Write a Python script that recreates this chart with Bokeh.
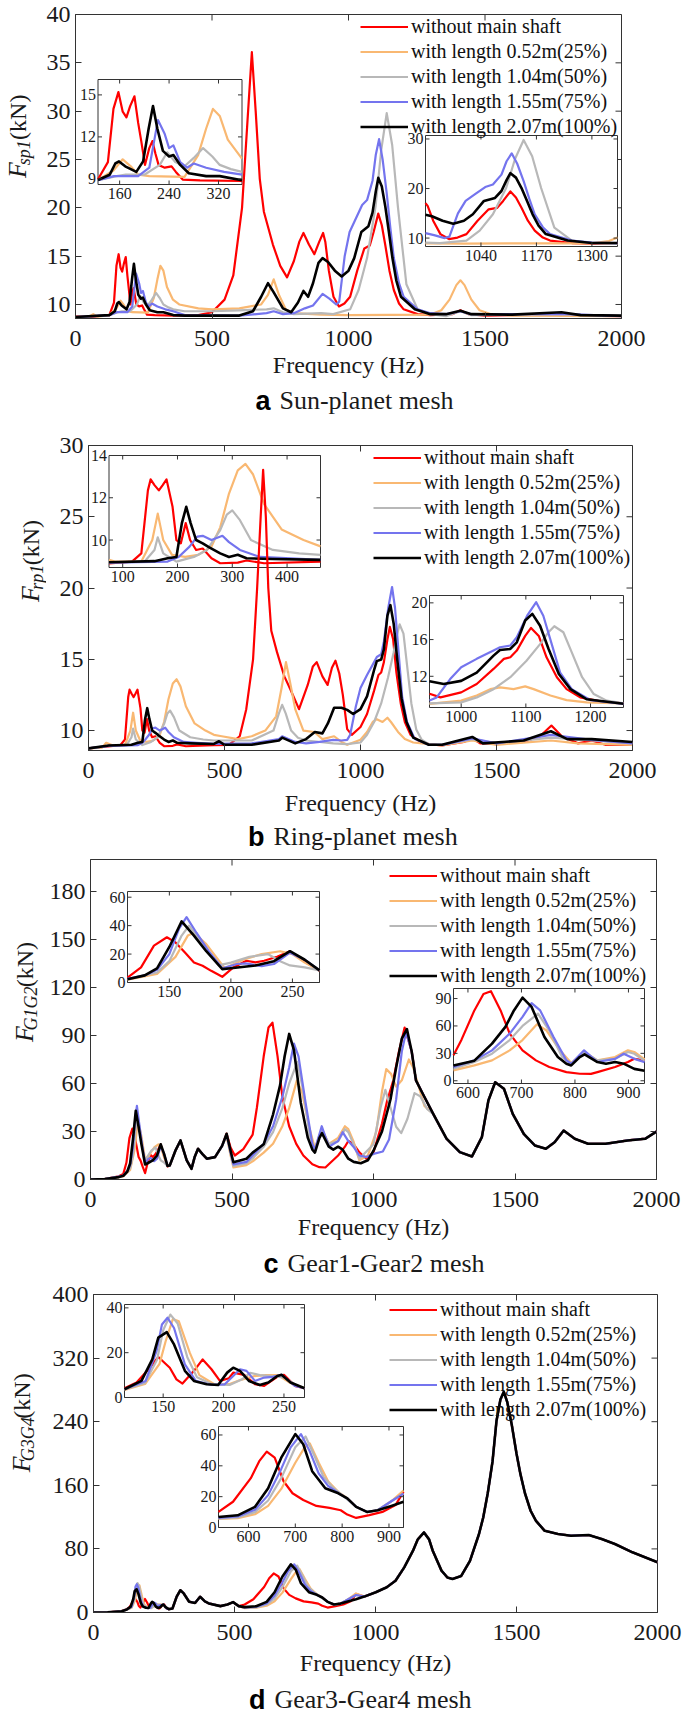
import numpy as np
from bokeh.plotting import figure
from bokeh.models import Range1d, Label, Legend, LegendItem, FixedTicker
from bokeh.layouts import column, row
from bokeh.embed import file_html
from bokeh.resources import INLINE
from bokeh.core.properties import value

SERIF = "Liberation Serif"
SANS = "Liberation Sans"

SERIES_LABELS = ["without main shaft", "with length 0.52m(25%)", "with length 1.04m(50%)",
                 "with length 1.55m(75%)", "with length 2.07m(100%)"]
COLORS = ["#ff0000", "#f9b872", "#b8b8b8", "#7474ee", "#000000"]
WIDTHS = [2.2, 2.2, 2.2, 2.2, 2.6]
FREQ_TICKS = [0, 500, 1000, 1500, 2000]

# ---------------- panel a : Sun-planet mesh (Hz, kN) ----------------
A_YTICKS = [10, 15, 20, 25, 30, 35, 40]
A_RED = [(0, 8.75), (60, 8.75), (124, 8.9), (141, 10.2), (150, 14.0), (158, 15.2), (165, 13.8), (171, 13.4),
         (177, 14.2), (184, 14.9), (190, 13.0), (195, 11.7), (201, 10.0), (208, 11.2), (213, 11.7), (218, 10.8),
         (223, 10.0), (233, 9.8), (244, 9.9), (251, 9.5), (262, 8.95), (290, 8.9), (360, 8.85), (450, 8.9),
         (500, 9.2), (546, 10.5), (578, 13), (610, 20), (630, 29), (646, 36.1), (660, 30), (675, 23), (690, 19.6),
         (723, 16.2), (750, 14), (775, 12.8), (800, 14.5), (820, 16.5), (835, 17.4), (855, 16.2), (875, 15.2),
         (893, 16.5), (907, 17.4), (915, 16.5), (928, 13.5), (945, 10.8), (965, 9.8), (985, 10.1), (1006, 10.8),
         (1032, 13.5), (1058, 15.8), (1078, 16.1), (1092, 17.5), (1109, 19.4), (1122, 18.2), (1135, 16.1),
         (1150, 13.5), (1166, 11.5), (1185, 10.1), (1202, 9.5), (1253, 9.0), (1300, 8.9), (1380, 9.0),
         (1410, 9.4), (1440, 9.0), (1500, 8.85), (1600, 8.9), (1780, 9.0), (1850, 8.85), (2000, 8.8)]
A_ORANGE = [(0, 8.7), (50, 8.75), (65, 9.0), (80, 8.75), (124, 8.9), (150, 9.6), (165, 10.4), (178, 9.9),
            (190, 9.3), (208, 9.2), (265, 9.15), (287, 10.7), (300, 12.6), (311, 14.0), (322, 13.5), (335, 11.8),
            (357, 10.5), (380, 10.0), (450, 9.6), (500, 9.5), (600, 9.6), (680, 10.0), (705, 11), (726, 12.6),
            (745, 11), (770, 9.5), (800, 9.1), (900, 8.95), (1000, 8.9), (1300, 8.95), (1340, 9.4), (1370, 10.5),
            (1395, 12.0), (1410, 12.5), (1425, 12.0), (1450, 10.5), (1480, 9.4), (1520, 9.0), (1600, 8.85),
            (2000, 8.8)]
A_GRAY = [(0, 8.7), (124, 8.9), (155, 9.2), (170, 9.3), (200, 9.3), (225, 10.0), (237, 10.9), (250, 10.2),
          (265, 9.9), (280, 10.5), (295, 11.2), (310, 10.6), (322, 10.0), (340, 9.7), (358, 9.5), (400, 9.3),
          (500, 9.3), (600, 9.4), (700, 9.5), (726, 9.6), (760, 9.2), (800, 9.0), (900, 9.1), (944, 9.0),
          (1006, 9.5), (1037, 11.5), (1068, 14.8), (1099, 20.1), (1120, 26), (1140, 29.8), (1160, 26.5),
          (1181, 20.1), (1212, 12.1), (1253, 9.5), (1300, 9.0), (1357, 8.8), (1410, 9.3), (1450, 8.9),
          (1800, 9.0), (2000, 8.8)]
A_BLUE = [(0, 8.7), (124, 8.9), (151, 9.2), (190, 9.2), (208, 9.8), (215, 11.5), (222, 13.2), (233, 12.2),
          (240, 11.2), (247, 11.4), (258, 10.2), (269, 9.8), (280, 10.1), (300, 9.8), (329, 9.5), (358, 9.3),
          (400, 8.9), (600, 8.85), (700, 9.1), (726, 9.3), (760, 9.0), (800, 9.1), (840, 9.6), (870, 9.9),
          (905, 11.1), (930, 10.6), (955, 10.0), (966, 10.3), (986, 15.0), (1004, 17.5), (1027, 18.9),
          (1050, 20.3), (1068, 20.8), (1088, 22.8), (1100, 25.5), (1112, 27.1), (1125, 25.0), (1140, 21.5),
          (1153, 18), (1166, 14.8), (1185, 12.2), (1202, 10.8), (1253, 9.5), (1300, 9.1), (1357, 9.0),
          (1410, 9.3), (1450, 9.0), (1800, 9.0), (2000, 8.8)]
A_BLACK = [(0, 8.7), (124, 8.9), (144, 9.3), (153, 10.1), (159, 10.25), (169, 9.9), (187, 9.5), (198, 10.25),
           (207, 12.6), (214, 14.2), (221, 12.6), (230, 11.0), (240, 10.6), (247, 10.7), (258, 10.0), (272, 9.4),
           (300, 9.2), (322, 9.2), (358, 8.9), (400, 8.85), (600, 8.85), (650, 9.3), (680, 10.8), (705, 12.2),
           (725, 11.3), (760, 9.6), (790, 9.2), (815, 10.2), (835, 11.4), (852, 10.8), (870, 12.2), (890, 14.3),
           (905, 14.8), (925, 14.4), (950, 13.5), (975, 12.9), (1000, 13.5), (1021, 14.8), (1047, 17.5),
           (1073, 18.1), (1088, 19.5), (1100, 21.7), (1109, 23.1), (1122, 22.2), (1135, 20.1), (1148, 17.5),
           (1161, 14.8), (1175, 12.5), (1192, 10.8), (1243, 9.5), (1300, 9.0), (1357, 9.0), (1410, 9.35),
           (1450, 9.0), (1600, 8.95), (1780, 9.2), (1850, 8.9), (2000, 8.85)]

# ---------------- panel b : Ring-planet mesh ----------------
B_YTICKS = [10, 15, 20, 25, 30]
B_RED = [(0, 8.75), (117, 8.98), (134, 9.37), (146, 12.35), (151, 12.87), (158, 12.6), (166, 12.35), (173, 12.6),
         (180, 12.87), (191, 11.57), (198, 10.0), (206, 9.84), (215, 10.8), (223, 10.0), (234, 9.53), (246, 9.6),
         (262, 9.14), (278, 8.9), (310, 8.93), (326, 9.03), (358, 8.9), (461, 8.98), (516, 9.0), (556, 9.6),
         (580, 11.5), (605, 15), (620, 20), (633, 25), (642, 28.3), (652, 25), (661, 20), (672, 17), (693, 15.5),
         (720, 13.8), (742, 12.9), (774, 11.5), (806, 13.2), (825, 14.5), (839, 14.8), (860, 13.8), (879, 13.2),
         (895, 14.4), (908, 14.9), (922, 14.0), (935, 12.5), (951, 10.1), (968, 9.7), (1000, 10.25),
         (1024, 11.16), (1050, 12.8), (1066, 13.9), (1076, 14.07), (1086, 14.8), (1099, 16.4), (1108, 17.27),
         (1120, 16.4), (1132, 14.07), (1148, 11.9), (1163, 10.6), (1184, 9.7), (1215, 9.27), (1251, 9.05),
         (1300, 8.95), (1380, 9.2), (1411, 9.45), (1440, 9.1), (1500, 9.1), (1600, 9.2), (1660, 9.6),
         (1702, 10.35), (1740, 9.6), (1800, 9.1), (1850, 9.3), (1900, 9.0), (2000, 9.0)]
B_ORANGE = [(0, 8.75), (50, 8.8), (65, 9.14), (86, 8.98), (134, 8.98), (154, 10.0), (164, 11.25), (174, 10.0),
            (190, 9.3), (214, 9.2), (238, 9.3), (262, 9.69), (278, 10.6), (294, 12.2), (310, 13.3), (324, 13.6),
            (338, 13.1), (358, 11.7), (390, 10.5), (430, 10.0), (461, 9.7), (490, 9.6), (550, 9.4), (600, 9.6),
            (650, 10.0), (690, 11), (710, 13), (726, 14.8), (740, 13.5), (760, 11.5), (790, 10.0), (830, 9.9),
            (860, 9.4), (903, 9.6), (930, 9.2), (951, 9.0), (1000, 9.35), (1024, 9.9), (1045, 10.6), (1060, 10.8),
            (1081, 10.6), (1099, 10.9), (1112, 10.6), (1138, 9.9), (1163, 9.4), (1194, 9.16), (1251, 9.05),
            (1300, 8.95), (1411, 9.3), (1500, 9.0), (1700, 9.3), (1800, 9.1), (2000, 9.0)]
B_GRAY = [(0, 8.75), (75, 8.93), (140, 8.98), (158, 9.53), (164, 10.13), (174, 9.37), (198, 8.98), (230, 9.2),
          (254, 9.53), (278, 10.47), (290, 11.2), (300, 11.4), (314, 10.94), (334, 10.0), (374, 9.53),
          (422, 9.37), (461, 9.3), (600, 9.3), (680, 10.0), (700, 11.2), (712, 11.8), (725, 11.2), (745, 10.0),
          (770, 9.5), (800, 9.3), (900, 9.1), (951, 9.05), (1000, 9.16), (1024, 9.7), (1050, 10.6), (1076, 11.9),
          (1101, 13.7), (1122, 15.5), (1135, 16.8), (1144, 17.45), (1158, 16.8), (1171, 14.6), (1187, 11.9),
          (1205, 10.07), (1225, 9.35), (1251, 9.05), (1300, 9.0), (1411, 9.4), (1500, 9.1), (1700, 9.5),
          (1850, 9.3), (2000, 9.1)]
B_BLUE = [(0, 8.75), (75, 8.93), (182, 8.98), (202, 9.2), (222, 9.69), (236, 10.16), (246, 10.2), (262, 10.0),
          (282, 10.2), (294, 9.9), (314, 9.53), (350, 9.2), (398, 9.14), (461, 9.06), (600, 9.1), (700, 9.4),
          (712, 9.6), (760, 9.2), (800, 9.1), (850, 9.2), (900, 9.35), (930, 9.3), (951, 9.35), (962, 9.7),
          (983, 11.7), (1000, 12.98), (1024, 13.9), (1050, 14.8), (1060, 15.16), (1076, 15.35), (1086, 16.25),
          (1102, 18.6), (1116, 20.07), (1127, 18.6), (1140, 15.5), (1153, 12.4), (1171, 10.6), (1200, 9.4),
          (1251, 9.0), (1300, 9.0), (1411, 9.45), (1500, 9.1), (1700, 9.7), (1850, 9.35), (2000, 9.1)]
B_BLACK = [(0, 8.75), (75, 8.95), (158, 9.0), (182, 9.14), (198, 9.2), (208, 10.8), (216, 11.57), (224, 10.8),
           (234, 10.0), (246, 9.84), (258, 9.65), (278, 9.37), (294, 9.2), (310, 9.3), (326, 9.14), (374, 9.1),
           (461, 9.06), (480, 9.25), (500, 9.0), (600, 9.0), (700, 9.3), (712, 9.5), (760, 9.1), (800, 9.4),
           (832, 9.9), (860, 9.8), (880, 10.5), (903, 11.6), (930, 11.6), (951, 11.45), (973, 11.16), (1000, 11.5),
           (1024, 12.4), (1050, 14.25), (1060, 14.87), (1076, 14.98), (1086, 15.7), (1099, 18.07), (1110, 18.8),
           (1122, 17.5), (1135, 15.0), (1151, 12.25), (1169, 10.6), (1194, 9.5), (1251, 9.0), (1300, 9.0),
           (1411, 9.55), (1450, 9.1), (1600, 9.3), (1700, 9.95), (1760, 9.4), (1850, 9.4), (2000, 9.2)]

# ---------------- panel c : Gear1-Gear2 mesh ----------------
C_YTICKS = [0, 30, 60, 90, 120, 150, 180]
C_MID = [(280, 8.7), (300, 18), (318, 24.4), (340, 12), (357, 6.7), (368, 14), (380, 19.2), (395, 16),
         (411, 13), (440, 14), (465, 21)]
C_TAIL = [(1211, 41), (1258, 25.5), (1305, 17.1), (1348, 14.4), (1383, 26.5), (1406, 49.4), (1430, 60.8),
          (1461, 56.7), (1492, 41), (1531, 28.5), (1570, 21.3), (1609, 19.2), (1640, 23.3), (1672, 30.6),
          (1711, 25.5), (1758, 22.3), (1820, 22.3), (1898, 24.4), (1961, 25.5), (2000, 30)]
C_RED = ([(0, 0), (50, 0.3), (100, 2), (116, 3.5), (127, 10.6), (137.5, 25.9), (148, 31.8), (155, 28.2),
          (162.5, 21.2), (170, 14.1), (177, 11.8), (184, 8.2), (193, 4), (202, 10.6), (212.5, 15.3), (220, 14.1),
          (227, 15.3), (237.5, 18.1), (248, 21.9), (259, 15.3), (272, 8.2)] + C_MID +
         [(481, 28.6), (495, 20), (510, 15), (540, 19), (573, 28), (588, 45), (612, 77), (629, 95), (643, 98),
          (661, 77), (678, 51.6), (702, 33.3), (727, 22.3), (752, 15), (784, 9.5), (809, 7.7), (830, 7.5),
          (842, 9.5), (875, 15), (899, 20.5), (911, 24.1), (929, 22.3), (950, 17), (975, 13), (1000, 17),
          (1030, 35), (1048, 49), (1070, 62), (1090, 80), (1110, 95), (1135, 80), (1150, 62), (1170, 55)] + C_TAIL)
C_ORANGE = ([(0, 0), (50, 0.2), (100, 1.5), (116, 2), (140, 6), (155, 18), (165, 33), (170, 35), (180, 27),
             (195, 10), (210, 16), (225, 20), (240, 22), (250, 20), (260, 14), (272, 8.5)] + C_MID +
            [(481, 27), (495, 15), (505, 7.5), (551, 9), (573, 11.3), (612, 16.8), (645, 22.3), (678, 33.3),
             (702, 44.6), (729, 61.8), (747, 55), (772, 33.3), (793, 19.4), (817, 31.5), (842, 22.3), (875, 26),
             (899, 33.3), (911, 31.5), (929, 24), (950, 12), (980, 15), (1010, 30), (1030, 55), (1045, 69),
             (1062, 66), (1080, 58), (1100, 62), (1125, 75), (1140, 70), (1160, 58), (1180, 46)] + C_TAIL)
C_GRAY = ([(0, 0), (50, 0.3), (100, 1.8), (116, 2.3), (140, 7), (150, 15), (160, 33), (166, 40), (175, 30),
           (190, 12), (200, 14), (215, 18), (230, 20), (240, 15), (248, 12), (260, 10.6), (272, 8.5)] + C_MID +
          [(481, 28), (495, 16), (505, 8.5), (551, 10), (573, 13.2), (612, 20.5), (645, 29.6), (678, 44.6),
           (702, 60), (731, 73.5), (752, 55), (776, 26), (793, 18.7), (817, 31.5), (842, 22.3), (875, 24),
           (899, 31.5), (911, 29.6), (929, 22.3), (950, 13), (1000, 22), (1025, 45), (1042, 56), (1060, 45),
           (1080, 33), (1098, 29), (1120, 38), (1145, 54), (1165, 52), (1190, 44)] + C_TAIL)
C_BLUE = ([(0, 0), (50, 0.3), (100, 1.8), (116, 2.5), (130, 5), (140, 9), (150, 20), (158, 38), (164, 46),
           (172, 35), (182, 22), (193, 10), (205, 13), (212, 13.5), (225, 11.5), (235, 13), (248, 21), (260, 16),
           (272, 8.5)] + C_MID +
          [(481, 28), (495, 17), (505, 9.5), (551, 11), (573, 15), (612, 22.3), (645, 33.3), (678, 51.6),
           (702, 70), (719, 85), (735, 77), (760, 48), (784, 22.3), (793, 18.7), (817, 33.3), (842, 20.5),
           (875, 24), (891, 29.6), (911, 24), (929, 20.5), (950, 15), (975, 14), (1000, 16), (1033, 17.5),
           (1055, 25), (1080, 50), (1100, 80), (1115, 92), (1135, 80), (1150, 62), (1170, 55)] + C_TAIL)
C_BLACK = ([(0, 0), (50, 0.3), (100, 1.5), (116, 2.3), (130, 5), (140, 10), (150, 25), (160, 43), (170, 33),
            (180, 22), (193, 9.4), (200, 10), (220, 12), (235, 15), (248, 22), (260, 16), (272, 8.5)] + C_MID +
           [(481, 28.6), (495, 18), (505, 10.8), (551, 13.0), (573, 16.8), (612, 22), (645, 40.6), (670, 59),
            (686, 77), (702, 91), (719, 80.8), (743, 48), (768, 26), (784, 18.7), (793, 16.8), (809, 26),
            (818, 29), (842, 20.5), (858, 18.7), (875, 20.5), (891, 18.7), (911, 13), (930, 11), (955, 10.2),
            (980, 12), (1000, 18), (1030, 30), (1060, 50), (1080, 70), (1100, 88), (1118, 94), (1135, 80),
            (1150, 62), (1170, 55)] + C_TAIL)

# ---------------- panel d : Gear3-Gear4 mesh ----------------
D_YTICKS = [0, 80, 160, 240, 320, 400]
D_MID = [(280, 5), (295, 20), (308, 28), (320, 24), (339, 13.6), (360, 12), (378, 19.8), (395, 14), (409, 11.4),
         (450, 8), (475, 10), (495, 13), (515, 8)]
D_TAIL = [(960, 20), (1001, 25.5), (1040, 31.8), (1071, 40), (1102, 56.8), (1133, 77.7), (1150, 92),
          (1172, 100.7), (1190, 92), (1203, 77.7), (1234, 52.7), (1255, 44), (1273, 42.2), (1304, 46), (1335, 65),
          (1367, 98.7), (1382, 119.5), (1398, 150), (1415, 190), (1429, 240.8), (1443, 268), (1455, 277.5),
          (1467, 265), (1483, 236.6), (1500, 200), (1514, 174), (1530, 150), (1550, 128), (1569, 115.3),
          (1600, 102.8), (1647, 98.7), (1693, 96.6), (1756, 97.4), (1802, 92.4), (1849, 86.2), (1911, 75.7),
          (2000, 63.2)]
D_RED = ([(0, 0), (50, 0.3), (100, 1.8), (118, 4.15), (128, 6.7), (139, 13.3), (146, 18.1), (155.5, 13.3),
          (161, 8.1), (166, 6.2), (175.5, 11.9), (182.7, 17), (190, 12.6), (197, 7.4), (204.5, 8.6), (208, 11.1),
          (217, 10.1), (226, 6), (233.6, 5.2), (244.5, 9.2), (250, 10.1), (259, 5.2), (267, 4.15)] + D_MID +
         [(536, 10.1), (567, 16.7), (605, 32), (623, 43), (639, 49.2), (656, 45.3), (675, 30), (694, 22.2),
          (717, 17.8), (745, 14), (773, 12.7), (797, 11.2), (811, 8.4), (830, 6.2), (858, 8), (886, 10.1),
          (914, 14.5), (931, 23.3)] + D_TAIL)
D_ORANGE = ([(0, 0), (50, 0.3), (100, 1.4), (118, 3.4), (135, 6), (147, 15), (152, 25), (158, 35), (163, 34),
             (172, 20), (180, 10), (192, 6), (205, 6), (215, 8), (225, 9.5), (235, 10), (245, 10), (255, 6.5),
             (267, 4.2)] + D_MID +
            [(536, 5.5), (577, 6), (614, 8.6), (642, 14), (670, 25), (700, 42), (720, 52), (731, 54.5), (750, 42),
             (770, 30), (792, 23), (811, 19), (830, 13.4), (853, 10), (876, 11.2), (905, 17), (931, 24)] + D_TAIL)
D_GRAY = ([(0, 0), (50, 0.3), (100, 1.5), (118, 3.6), (135, 6.5), (145, 17), (150, 30), (156, 37), (162, 33),
           (170, 18), (178, 9), (190, 6), (205, 5.6), (215, 8), (222, 11), (230, 10), (240, 9.5), (250, 9),
           (260, 5.5), (267, 4.2)] + D_MID +
          [(536, 5.8), (577, 6.5), (614, 10), (642, 17.5), (670, 32), (700, 52), (722, 59), (740, 47), (760, 33),
           (780, 26), (800, 21), (830, 13.4), (853, 10), (876, 11.2), (905, 17), (931, 22)] + D_TAIL)
D_BLUE = ([(0, 0), (50, 0.3), (100, 1.6), (118, 3.7), (135.5, 7.4), (144.5, 20.7), (149, 32.6), (153.6, 35.6),
           (159, 31), (168, 14.8), (177, 7.4), (190, 5.6), (201, 5.9), (208, 9.6), (213.6, 12.6), (219, 11.9),
           (226, 7.4), (233.6, 8.9), (241, 9.2), (248, 10.1), (259, 5.2), (267, 4.15)] + D_MID +
          [(536, 6.3), (577, 7.2), (614, 11.5), (642, 21), (670, 38), (690, 52), (712, 60.6), (730, 50),
           (750, 35), (770, 27), (792, 22.2), (811, 18.9), (830, 13.4), (853, 10.1), (876, 11.2), (905, 17),
           (931, 22)] + D_TAIL)
D_BLACK = ([(0, 0), (50, 0.3), (100, 1.5), (118, 3.7), (132, 7.4), (141, 17), (146, 26.7), (153, 29.2),
            (159, 23.7), (168, 11.9), (175.5, 7.4), (186, 5.9), (195.5, 5.6), (203, 11.1), (208, 13.3),
            (213.6, 11.9), (221, 7.4), (230, 5.6), (237, 6.7), (244.5, 9.6), (248, 10.1), (255.5, 6.7),
            (267, 4.15)] + D_MID +
           [(536, 6.8), (577, 7.9), (614, 13.4), (642, 25.5), (670, 45.3), (700, 60.6), (717, 54), (736, 36.5),
            (764, 25.5), (792, 22.2), (811, 18.9), (830, 13.4), (853, 10.1), (876, 11.2), (905, 14),
            (931, 16.7)] + D_TAIL)

# ---------------- layout (page pixel coordinates; the page has no body margin) ----------------
PAGE_W = 685
SUB_W = {"sp1": 27, "rp1": 27, "G1G2": 46, "G3G4": 46}

PANELS = [
    dict(key="a", title="Sun-planet mesh", sub="sp1",
         series=[A_RED, A_ORANGE, A_GRAY, A_BLUE, A_BLACK], ylim=(8.55, 40), yticks=A_YTICKS,
         top=0, cap_top=386, bottom=425, ylab_w=36,
         frame=(75, 621, 14, 318), xlab_standoff=3, legend=(285, 179),
         ylabel=(17, 157), caption=(279, 400),
         insets=[dict(rect=(97.5, 241.5, 79, 184), xlim=(125, 358), ylim=(8.6, 16.1),
                      xticks=[160, 240, 320], yticks=[9, 12, 15]),
                 dict(rect=(425, 617, 135, 246), xlim=(910, 1360), ylim=(8.3, 30.7),
                      xticks=[1040, 1170, 1300], yticks=[10, 20, 30])]),
    dict(key="b", title="Ring-planet mesh", sub="rp1",
         series=[B_RED, B_ORANGE, B_GRAY, B_BLUE, B_BLACK], ylim=(8.6, 30), yticks=B_YTICKS,
         top=425, cap_top=822, bottom=852, ylab_w=46,
         frame=(88, 632, 445, 750), xlab_standoff=9, legend=(285, 180),
         ylabel=(30, 578), caption=(273, 836),
         insets=[dict(rect=(108.5, 320, 455, 567), xlim=(75, 461), ylim=(8.7, 14),
                      xticks=[100, 200, 300, 400], yticks=[10, 12, 14]),
                 dict(rect=(429, 623, 595, 707), xlim=(951, 1251), ylim=(8.6, 20.8),
                      xticks=[1000, 1100, 1200], yticks=[12, 16, 20])]),
    dict(key="c", title="Gear1-Gear2 mesh", sub="G1G2",
         series=[C_RED, C_ORANGE, C_GRAY, C_BLUE, C_BLACK], ylim=(0, 200), yticks=C_YTICKS,
         top=852, cap_top=1248, bottom=1281, ylab_w=44,
         frame=(90, 656, 859, 1179), xlab_standoff=4, legend=(299, 191),
         ylabel=(24, 1018), caption=(287, 1263),
         insets=[dict(rect=(127, 319, 891, 982), xlim=(116, 272), ylim=(0, 64),
                      xticks=[150, 200, 250], yticks=[0, 20, 40, 60]),
                 dict(rect=(453, 644, 988, 1083), xlim=(573, 930), ylim=(-3, 101),
                      xticks=[600, 700, 800, 900], yticks=[0, 30, 60, 90])]),
    dict(key="d", title="Gear3-Gear4 mesh", sub="G3G4",
         series=[D_RED, D_ORANGE, D_GRAY, D_BLUE, D_BLACK], ylim=(0, 400), yticks=D_YTICKS,
         top=1281, cap_top=1682, bottom=1714, ylab_w=44,
         frame=(93, 657, 1294, 1612), xlab_standoff=7, legend=(296, 190),
         ylabel=(21, 1445), caption=(274, 1699),
         insets=[dict(rect=(124, 304, 1304, 1397), xlim=(118, 267), ylim=(0, 41.5),
                      xticks=[150, 200, 250], yticks=[0, 20, 40]),
                 dict(rect=(218, 403, 1426, 1527), xlim=(536, 931), ylim=(0, 65.5),
                      xticks=[600, 700, 800, 900], yticks=[0, 20, 40, 60])]),
]


def arr(pts):
    f = np.array([q[0] for q in pts], dtype=float)
    v = np.array([q[1] for q in pts], dtype=float)
    return f, v


def clip_series(pts, xa, xb, ya, yb):
    f, v = arr(pts)
    inner = (f > xa) & (f < xb)
    fx = np.concatenate([[xa], f[inner], [xb]])
    vx = np.concatenate([[np.interp(xa, f, v)], v[inner], [np.interp(xb, f, v)]])
    return fx, np.clip(vx, ya, yb)


def style_axis(ax):
    ax.major_tick_in = 6
    ax.major_tick_out = 0
    ax.minor_tick_in = 0
    ax.minor_tick_out = 0
    ax.axis_line_color = "#333333"
    ax.major_tick_line_color = "#333333"
    ax.major_label_text_font = SERIF
    ax.major_label_text_font_size = "24px"
    ax.major_label_text_color = "#1a1a1a"


def text_fig(w, h):
    f = figure(width=w, height=h, x_range=Range1d(0, w), y_range=Range1d(0, h),
               output_backend="svg", toolbar_location=None, x_axis_location=None, y_axis_location=None,
               min_border=0, min_border_left=0, min_border_right=0, min_border_top=0, min_border_bottom=0)
    f.xgrid.visible = False
    f.ygrid.visible = False
    f.outline_line_color = None
    f.background_fill_color = "white"
    f.border_fill_color = "white"
    return f


def make_panel(cfg):
    fl, fr, ft, fb = cfg["frame"]
    top, cap_top, bottom = cfg["top"], cfg["cap_top"], cfg["bottom"]
    yw = cfg["ylab_w"]
    H = cap_top - top
    W = PAGE_W - yw
    y0, y1 = cfg["ylim"]
    p = figure(width=W, height=H, x_range=Range1d(0, 2000), y_range=Range1d(y0, y1),
               output_backend="svg", toolbar_location=None,
               min_border_left=fl - yw, min_border_right=PAGE_W - fr,
               min_border_top=ft - top, min_border_bottom=cap_top - fb)
    p.xgrid.visible = False
    p.ygrid.visible = False
    p.outline_line_color = "#333333"
    p.background_fill_color = "white"
    p.border_fill_color = "white"

    p.xaxis.ticker = FixedTicker(ticks=FREQ_TICKS)
    p.yaxis.ticker = FixedTicker(ticks=cfg["yticks"])
    for ax in p.xaxis + p.yaxis:
        style_axis(ax)
    p.xaxis.major_label_standoff = 12
    p.yaxis.major_label_standoff = 5
    p.xaxis.axis_label = "Frequency (Hz)"
    p.xaxis.axis_label_text_font = SERIF
    p.xaxis.axis_label_text_font_size = "24px"
    p.xaxis.axis_label_text_font_style = "normal"
    p.xaxis.axis_label_text_color = "#1a1a1a"
    p.xaxis.axis_label_standoff = cfg["xlab_standoff"]

    fw, fh = fr - fl, fb - ft
    dx, dy = 2000.0 / fw, (y1 - y0) / fh
    yt = cfg["yticks"]
    # inward ticks on the top and right edges of the box
    p.segment(x0=FREQ_TICKS, y0=[y1] * 5, x1=FREQ_TICKS, y1=[y1 - 6 * dy] * 5, line_color="#333333", line_width=1)
    p.segment(x0=[2000] * len(yt), y0=yt, x1=[2000 - 6 * dx] * len(yt), y1=yt, line_color="#333333", line_width=1)

    # insets (own scales mapped onto a sub-rectangle of the frame)
    ex, ey = {}, {}
    for k, ins in enumerate(cfg["insets"]):
        rl, rr, rt, rb = ins["rect"]
        fx0, fx1 = (rl - fl) / fw, (rr - fl) / fw
        fy0, fy1 = (fb - rb) / fh, (fb - rt) / fh
        xa, xb = ins["xlim"]
        ya, yb = ins["ylim"]
        sx = (xb - xa) / (fx1 - fx0)
        sy = (yb - ya) / (fy1 - fy0)
        ex["ix%d" % k] = Range1d(xa - fx0 * sx, xa - fx0 * sx + sx)
        ey["iy%d" % k] = Range1d(ya - fy0 * sy, ya - fy0 * sy + sy)
    p.extra_x_ranges = ex
    p.extra_y_ranges = ey

    for k, ins in enumerate(cfg["insets"]):
        rn = dict(x_range_name="ix%d" % k, y_range_name="iy%d" % k)
        rl, rr, rt, rb = ins["rect"]
        xa, xb = ins["xlim"]
        ya, yb = ins["ylim"]
        p.quad(left=[xa], right=[xb], bottom=[ya], top=[yb], fill_color="white",
               line_color="#333333", line_width=1, **rn)
        for pts, col, lw in zip(cfg["series"], COLORS, WIDTHS):
            fx, vx = clip_series(pts, xa, xb, ya, yb)
            p.line(fx, vx, line_color=col, line_width=lw, line_join="round", **rn)
        tly = 4.0 * (yb - ya) / (rb - rt)
        tlx = 4.0 * (xb - xa) / (rr - rl)
        xt = ins["xticks"]
        it = ins["yticks"]
        p.segment(x0=xt + xt, y0=[ya] * len(xt) + [yb] * len(xt),
                  x1=xt + xt, y1=[ya + tly] * len(xt) + [yb - tly] * len(xt),
                  line_color="#333333", line_width=1, **rn)
        p.segment(x0=[xa] * len(it) + [xb] * len(it), y0=it + it,
                  x1=[xa + tlx] * len(it) + [xb - tlx] * len(it), y1=it + it,
                  line_color="#333333", line_width=1, **rn)
        p.text(x=xt, y=[ya] * len(xt), text=[str(t) for t in xt], text_font=value(SERIF),
               text_font_size="16px", text_align="center", text_baseline="top", y_offset=3,
               text_color="#1a1a1a", **rn)
        p.text(x=[xa] * len(it), y=it, text=[str(t) for t in it], text_font=value(SERIF),
               text_font_size="16px", text_align="right", text_baseline="middle", x_offset=-2,
               text_color="#1a1a1a", **rn)

    # main curves, drawn last so they pass over the insets as in the original
    renderers = []
    for pts, col, lw in zip(cfg["series"], COLORS, WIDTHS):
        f, v = arr(pts)
        renderers.append(p.line(f, v, line_color=col, line_width=lw, line_join="round"))

    items = [LegendItem(label=lab, renderers=[r]) for lab, r in zip(SERIES_LABELS, renderers)]
    legend = Legend(items=items, location=cfg["legend"], orientation="vertical",
                    label_text_font=SERIF, label_text_font_size="20px", label_text_color="#111111",
                    glyph_width=48, glyph_height=25, label_height=25, label_standoff=3,
                    spacing=0, padding=0, margin=0, background_fill_alpha=0, border_line_alpha=0)
    p.add_layout(legend)

    # y-axis title in its own strip: F_sub (kN), rotated, pieces centred along the axis
    yl = text_fig(yw, H)
    bx, ccy = cfg["ylabel"]
    wF, wS, gap, wK = 17, SUB_W[cfg["sub"]], 9, 45
    ystart = ccy + (wF + wS + gap + wK) / 2.0
    parts = [("F", "italic", "26px", 0, wF / 2.0),
             (cfg["sub"], "italic", "18px", 6, wF + wS / 2.0),
             ("(kN)", "normal", "24px", 0, wF + wS + gap + wK / 2.0)]
    for txt, st, sz, ddx, ddy in parts:
        yl.add_layout(Label(x=bx + ddx, y=cap_top - (ystart - ddy), text=txt, angle=np.pi / 2,
                            text_font=SERIF, text_font_style=st, text_font_size=sz,
                            text_color="#1a1a1a", text_align="center", text_baseline="middle"))

    # caption strip
    ch = bottom - cap_top
    cap = text_fig(PAGE_W, ch)
    tx0, tyc = cfg["caption"]
    cap.add_layout(Label(x=tx0 - 9, y=bottom - tyc, text=cfg["key"], text_font=SANS, text_font_style="bold",
                         text_font_size="27px", text_color="#000000", text_align="right", text_baseline="middle"))
    cap.add_layout(Label(x=tx0, y=bottom - tyc, text=cfg["title"], text_font=SERIF, text_font_size="26px",
                         text_color="#1a1a1a", text_align="left", text_baseline="middle"))
    return column(row(yl, p, spacing=0), cap, spacing=0)


panels = [make_panel(c) for c in PANELS]
layout = column(*panels, spacing=0)
open("out.html", "w").write(file_html(layout, INLINE, "Frequency response"))
